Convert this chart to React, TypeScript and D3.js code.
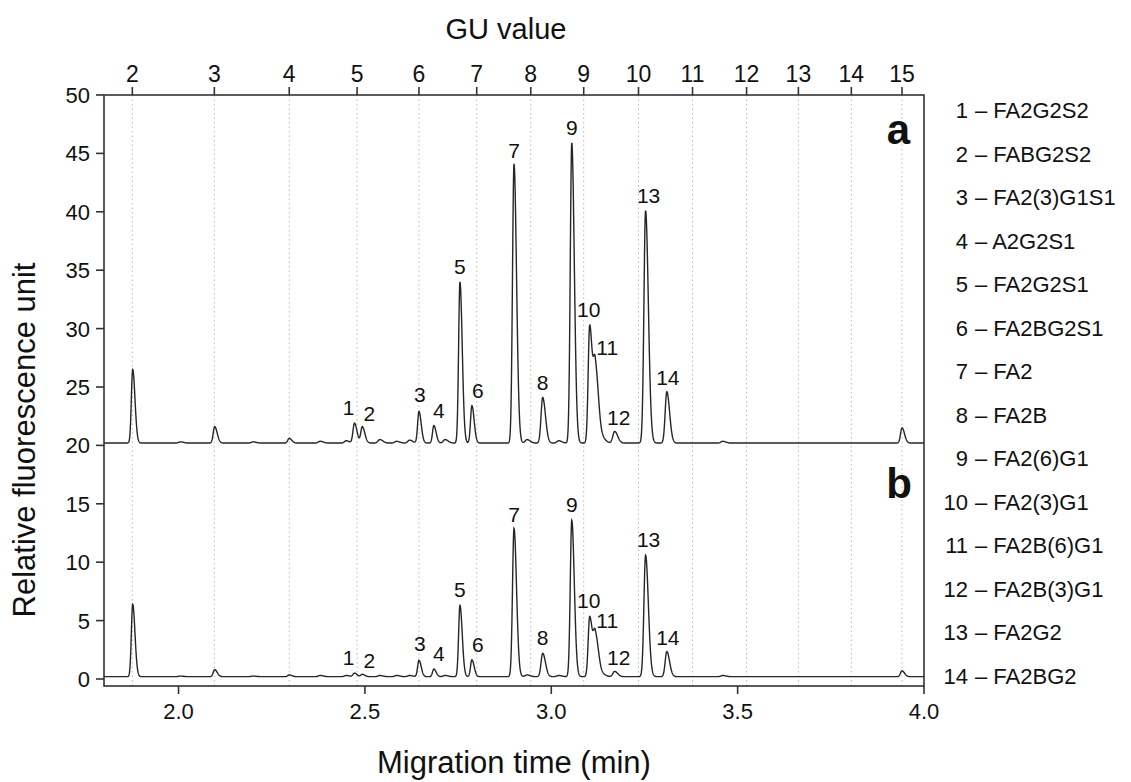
import React from "react";
import * as d3 from "d3";

// ---- data ----
// x ticks (migration time, min)
const timeTicks = [2.0, 2.5, 3.0, 3.5, 4.0];
const yTicks = [0, 5, 10, 15, 20, 25, 30, 35, 40, 45, 50];
// GU ladder: GU value and its migration time
const guValues = [2, 3, 4, 5, 6, 7, 8, 9, 10, 11, 12, 13, 14, 15];
const guTimes = [1.876, 2.096, 2.297, 2.479, 2.645, 2.8, 2.945, 3.087, 3.234, 3.379, 3.524, 3.663, 3.805, 3.941];

// peaks: migration time, heights above baseline in trace a and trace b, width (min)
const peakTimes = [1.877, 2.097, 2.297, 2.005, 2.2, 2.38, 2.45, 2.472, 2.493, 2.54, 2.585, 2.62, 2.645, 2.685, 2.715, 2.755, 2.787, 2.9, 2.935, 2.977, 3.02, 3.055, 3.103, 3.118, 3.14, 3.17, 3.253, 3.31, 3.46, 3.941];
const peakHeightA = [6.3, 1.4, 0.4, 0.1, 0.1, 0.15, 0.2, 1.7, 1.4, 0.3, 0.15, 0.25, 2.7, 1.5, 0.3, 13.8, 3.2, 23.9, 0.3, 3.9, 0.2, 25.7, 10.0, 6.5, 0.3, 1.0, 19.9, 4.4, 0.15, 1.3];
const peakHeightB = [6.2, 0.6, 0.15, 0.05, 0.05, 0.1, 0.1, 0.3, 0.2, 0.1, 0.1, 0.1, 1.4, 0.65, 0.1, 6.1, 1.45, 12.7, 0.15, 2.0, 0.1, 13.4, 5.1, 3.6, 0.15, 0.45, 10.4, 2.15, 0.1, 0.5];
const peakWidth = [0.0045, 0.005, 0.005, 0.006, 0.006, 0.006, 0.006, 0.005, 0.005, 0.006, 0.006, 0.006, 0.0045, 0.0045, 0.006, 0.0045, 0.0045, 0.005, 0.006, 0.0055, 0.006, 0.005, 0.005, 0.0065, 0.006, 0.006, 0.0055, 0.0055, 0.006, 0.005];
const baselineA = 20.2;
const baselineB = 0.2;

// labelled peaks (index into the peak arrays)
const labelNums = ["1", "2", "3", "4", "5", "6", "7", "8", "9", "10", "11", "12", "13", "14"];
const labelPeakIdx = [7, 8, 12, 13, 15, 16, 17, 19, 21, 22, 23, 25, 26, 27];
const labelDx = [-6, 7, 1, 5, 0, 6, 0, 0, 0, -1, 12, 4, 3, 1];
const labelDy = [-8, -6, -9, -8, -8, -8, -6, -8, -8, -8, -2, -6, -8, -7];

const legendNames = ["FA2G2S2", "FABG2S2", "FA2(3)G1S1", "A2G2S1", "FA2G2S1", "FA2BG2S1", "FA2", "FA2B", "FA2(6)G1", "FA2(3)G1", "FA2B(6)G1", "FA2B(3)G1", "FA2G2", "FA2BG2"];

const W = 1131, H = 782;
const L = 104, R = 924, T = 95, B = 686;
const FONT = "'Liberation Sans', Arial, sans-serif";

function traceValue(t: number, heights: number[], base: number) {
  let v = base;
  for (let i = 0; i < peakTimes.length; i++) {
    const d = t - peakTimes[i];
    const s = d < 0 ? peakWidth[i] * 0.8 : peakWidth[i] * 1.35;
    v += heights[i] * Math.exp(-(d * d) / (2 * s * s));
  }
  return v;
}

export default function App() {
  const x = d3.scaleLinear().domain([1.8, 4.0]).range([L, R]);
  const y = d3.scaleLinear().domain([-0.6, 50]).range([B, T]);
  const times = d3.range(1.8, 4.0001, 0.0005);
  const lineA = d3.line<number>().x((t) => x(t)).y((t) => y(traceValue(t, peakHeightA, baselineA)));
  const lineB = d3.line<number>().x((t) => x(t)).y((t) => y(traceValue(t, peakHeightB, baselineB)));

  const axisColor = "#333";
  const labelFor = (heights: number[], base: number, key: string) =>
    labelNums.map((n, k) => {
      const i = labelPeakIdx[k];
      const t = peakTimes[i];
      const v = traceValue(t, heights, base);
      return (
        <text key={key + n} x={x(t) + labelDx[k]} y={y(v) + labelDy[k]} textAnchor="middle" fontSize={21} fill="#111" fontFamily={FONT}>
          {n}
        </text>
      );
    });

  return (
    <svg width={W} height={H} style={{ position: "absolute", left: 0, top: 0, background: "#fff" }}>
      {/* GU grid lines */}
      {guTimes.map((t, i) => (
        <line key={"g" + i} x1={x(t)} x2={x(t)} y1={T} y2={B} stroke="#b8b8b8" strokeWidth={1} strokeDasharray="1.5,3" />
      ))}
      {/* traces */}
      <path d={lineA(times) || ""} fill="none" stroke="#262626" strokeWidth={1.4} />
      <path d={lineB(times) || ""} fill="none" stroke="#262626" strokeWidth={1.4} />
      {/* frame */}
      <rect x={L} y={T} width={R - L} height={B - T} fill="none" stroke={axisColor} strokeWidth={1.6} />
      {/* bottom axis */}
      {timeTicks.map((t) => (
        <g key={"b" + t}>
          <line x1={x(t)} x2={x(t)} y1={B} y2={B + 8} stroke={axisColor} strokeWidth={1.6} />
          <text x={x(t)} y={B + 33} textAnchor="middle" fontSize={22} fill="#111" fontFamily={FONT}>
            {d3.format(".1f")(t)}
          </text>
        </g>
      ))}
      {/* top GU axis */}
      {guValues.map((g, i) => (
        <g key={"t" + g}>
          <line x1={x(guTimes[i])} x2={x(guTimes[i])} y1={T} y2={T - 8} stroke={axisColor} strokeWidth={1.6} />
          <text x={x(guTimes[i])} y={T - 13} textAnchor="middle" fontSize={23} fill="#111" fontFamily={FONT}>
            {g}
          </text>
        </g>
      ))}
      {/* y axis */}
      {yTicks.map((v) => (
        <g key={"y" + v}>
          <line x1={L} x2={L - 8} y1={y(v)} y2={y(v)} stroke={axisColor} strokeWidth={1.6} />
          <text x={L - 14} y={y(v) + 8} textAnchor="end" fontSize={22} fill="#111" fontFamily={FONT}>
            {v}
          </text>
        </g>
      ))}
      {/* peak labels */}
      {labelFor(peakHeightA, baselineA, "a")}
      {labelFor(peakHeightB, baselineB, "b")}
      {/* panel letters */}
      <text x={910} y={144} textAnchor="end" fontSize={42} fontWeight="bold" fill="#111" fontFamily={FONT}>a</text>
      <text x={912} y={498} textAnchor="end" fontSize={42} fontWeight="bold" fill="#111" fontFamily={FONT}>b</text>
      {/* titles */}
      <text x={506} y={39} textAnchor="middle" fontSize={29} fill="#111" fontFamily={FONT}>GU value</text>
      <text x={514} y={773} textAnchor="middle" fontSize={31} fill="#111" fontFamily={FONT}>Migration time (min)</text>
      <text transform={`translate(35,440) rotate(-90)`} textAnchor="middle" fontSize={31} fill="#111" fontFamily={FONT}>
        Relative fluorescence unit
      </text>
      {/* legend */}
      {legendNames.map((name, i) => (
        <g key={"l" + i} fontFamily={FONT} fontSize={22} fill="#111">
          <text x={968} y={118 + i * 43.5} textAnchor="end">{i + 1}</text>
          <text x={975} y={118 + i * 43.5}>{"– " + name}</text>
        </g>
      ))}
    </svg>
  );
}
